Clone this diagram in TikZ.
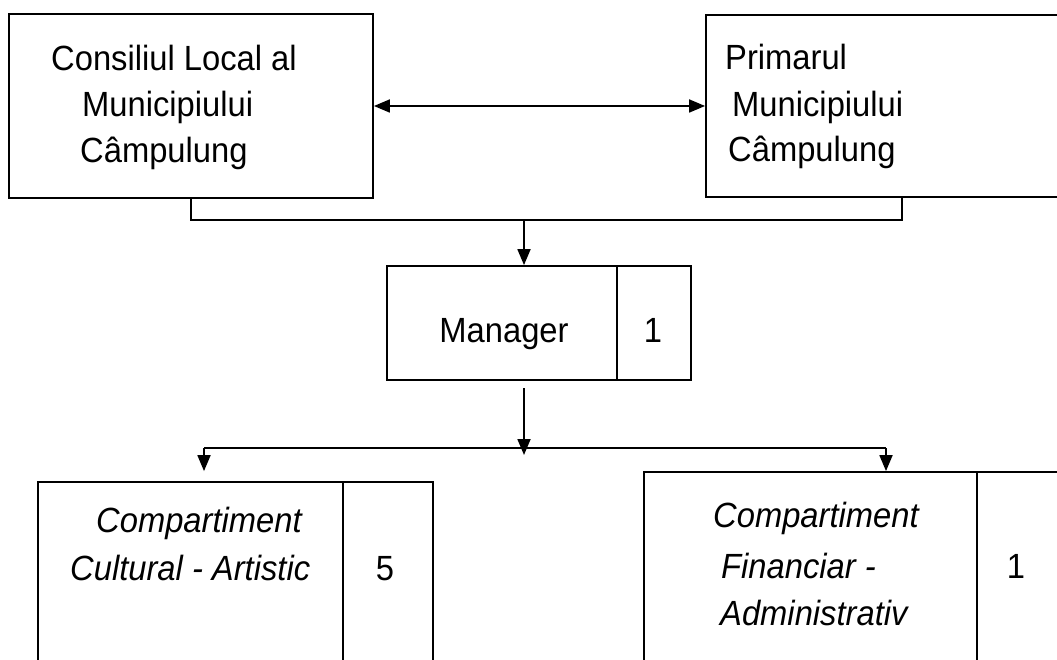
\documentclass[tikz,border=0pt]{standalone}
\usepackage{fontspec}
\setmainfont{Liberation Sans}
\usetikzlibrary{arrows.meta}
\newcommand{\nt}[1]{\scalebox{0.935}[1]{#1}}
\begin{document}
\begin{tikzpicture}[x=1pt,y=-1pt,
  box/.style={draw,line width=1.8pt,rectangle,inner sep=0pt},
  txt/.style={inner sep=0pt,anchor=base west,font=\fontsize{35pt}{42pt}\selectfont},
  itxt/.style={txt,font=\fontsize{35pt}{42pt}\selectfont\itshape},
  num/.style={inner sep=0pt,anchor=base,font=\fontsize{35pt}{42pt}\selectfont},
  conn/.style={line width=1.8pt},
  arr/.style={line width=1.8pt,-{Triangle[length=16pt,width=13pt]}},
  darr/.style={line width=1.8pt,{Triangle[length=16pt,width=13pt]}-{Triangle[length=16pt,width=13pt]}}]
\useasboundingbox (0,0) rectangle (1057,660);
\clip (0,0) rectangle (1057,660);
\fill[white] (0,0) rectangle (1057,660);
% boxes
\node[box,minimum width=364pt,minimum height=184pt] (cl) at (191,106) {};
\node[box,minimum width=364pt,minimum height=182pt] (pr) at (888,106) {};
\node[box,minimum width=230pt,minimum height=114pt] (mgr) at (502,323) {};
\node[box,minimum width=74pt,minimum height=114pt] (mgrn) at (654,323) {};
\node[box,minimum width=305pt,minimum height=230pt] (cca) at (190.5,597) {};
\node[box,minimum width=90pt,minimum height=230pt] (ccan) at (388,597) {};
\node[box,minimum width=333pt,minimum height=240pt] (cfa) at (810.5,592) {};
\node[box,minimum width=93pt,minimum height=240pt] (cfan) at (1023.5,592) {};
% texts
\node[txt] (t1) at (51,71) {\nt{Consiliul Local al}};
\node[txt] (t2) at (82,117) {\nt{Municipiului}};
\node[txt] (t3) at (80,163) {\nt{Câmpulung}};
\node[txt] (t4) at (725,70) {\nt{Primarul}};
\node[txt] (t5) at (732,117) {\nt{Municipiului}};
\node[txt] (t6) at (728,162) {\nt{Câmpulung}};
\node[num] (t7) at (504,342) {\nt{Manager}};
\node[num] (t8) at (653,342) {\nt{1}};
\node[itxt] (t9) at (96,532) {\nt{Compartiment}};
\node[itxt] (t10) at (70,580) {\nt{Cultural - Artistic}};
\node[num] (t11) at (385,580) {\nt{5}};
\node[itxt] (t12) at (713,527) {\nt{Compartiment}};
\node[itxt] (t13) at (721,578) {\nt{Financiar -}};
\node[itxt] (t14) at (720,625) {\nt{Administrativ}};
\node[num] (t15) at (1016,578) {\nt{1}};
% connectors
\draw[darr] (cl.east) -- (pr.west);
\coordinate (j) at (524,220);
\coordinate (jr) at (902,220);
\draw[conn] (cl.south) |- (jr) -- (jr |- pr.south);
\draw[arr] (j) -- (j |- mgr.north);
\coordinate (ms) at (524,388);
\coordinate (mt) at (524,455);
\draw[arr] (ms) -- (mt);
\coordinate (hl) at (204,448);
\coordinate (hr) at (886,448);
\draw[conn] (hl) -- (hr);
\draw[arr] (hl) -- ([yshift=10pt]hl |- cca.north);
\draw[arr] (hr) -- (hr |- cfa.north);
\end{tikzpicture}
\end{document}
